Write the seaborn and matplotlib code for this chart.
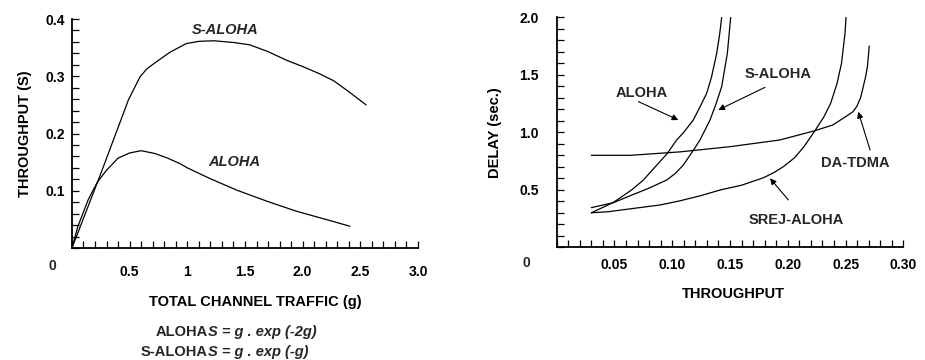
import numpy as np
import pandas as pd
import seaborn as sns
import matplotlib.pyplot as plt
from matplotlib.ticker import MultipleLocator

# --- left panel: throughput vs offered traffic
s_aloha_g = [0, 0.25, 0.49, 0.59, 0.65, 0.73, 0.85, 0.99, 1.10, 1.23, 1.40, 1.54,
             1.70, 1.86, 2.00, 2.15, 2.27, 2.40, 2.55]
s_aloha_s = [0, 0.13, 0.259, 0.299, 0.313, 0.325, 0.342, 0.357, 0.361, 0.362, 0.359, 0.355,
             0.343, 0.328, 0.317, 0.304, 0.292, 0.273, 0.25]
aloha_g = [0, 0.05, 0.14, 0.22, 0.30, 0.40, 0.50, 0.60, 0.72, 0.83, 0.94, 1.00,
           1.20, 1.43, 1.70, 1.95, 2.20, 2.41]
aloha_s = [0, 0.037, 0.084, 0.115, 0.136, 0.157, 0.166, 0.170, 0.165, 0.157, 0.147, 0.140,
           0.121, 0.101, 0.081, 0.064, 0.050, 0.038]

# --- right panel: delay vs throughput
aloha_x = [0.030, 0.049, 0.065, 0.075, 0.0958, 0.1038, 0.1100, 0.1182, 0.1240,
           0.1298, 0.1340, 0.1385, 0.1410, 0.1428]
aloha_y = [0.30, 0.39, 0.50, 0.585, 0.817, 0.933, 1.00, 1.107, 1.22,
           1.339, 1.48, 1.687, 1.85, 2.00]
s_aloha_x = [0.030, 0.049, 0.064, 0.080, 0.0952, 0.103, 0.1096, 0.118, 0.124,
             0.1327, 0.138, 0.1428, 0.1477, 0.1506]
s_aloha_y = [0.345, 0.388, 0.45, 0.515, 0.585, 0.645, 0.716, 0.84, 0.933,
             1.107, 1.25, 1.397, 1.687, 2.00]
srej_x = [0.030, 0.045, 0.064, 0.0895, 0.107, 0.125, 0.1413, 0.160, 0.179, 0.188, 0.196,
          0.206, 0.214, 0.2235, 0.231, 0.237, 0.2425, 0.2465, 0.2495, 0.2504]
srej_y = [0.30, 0.31, 0.335, 0.368, 0.405, 0.45, 0.498, 0.54, 0.605, 0.65, 0.70,
          0.78, 0.875, 1.014, 1.13, 1.25, 1.42, 1.60, 1.86, 2.00]
datdma_x = [0.030, 0.064, 0.107, 0.150, 0.193, 0.2235, 0.239, 0.251, 0.2565,
            0.2596, 0.2630, 0.2653, 0.2675, 0.2690, 0.2705]
datdma_y = [0.80, 0.80, 0.83, 0.875, 0.933, 1.014, 1.064, 1.142, 1.18,
            1.223, 1.30, 1.397, 1.49, 1.58, 1.75]

left_xticks = [0.5, 1, 1.5, 2.0, 2.5, 3.0]
left_xlabels = ['0.5', '1', '1.5', '2.0', '2.5', '3.0']
left_yticks = [0.1, 0.2, 0.3, 0.4]
right_xticks = [0.05, 0.10, 0.15, 0.20, 0.25, 0.30]
right_yticks = [0.5, 1.0, 1.5, 2.0]

sns.set_theme(style='ticks', rc={
    'xtick.direction': 'in', 'ytick.direction': 'in',
    'xtick.major.size': 5, 'xtick.minor.size': 5,
    'ytick.major.size': 5, 'ytick.minor.size': 5,
    'xtick.major.width': 0.9, 'xtick.minor.width': 0.9,
    'ytick.major.width': 0.9, 'ytick.minor.width': 0.9,
    'xtick.color': 'black', 'ytick.color': 'black',
    'xtick.bottom': True, 'ytick.left': True,
    'axes.edgecolor': 'black',
})
plt.rcParams['font.family'] = ['Liberation Sans', 'DejaVu Sans']
plt.rcParams['font.weight'] = 'bold'

fig = plt.figure(figsize=(9.25, 3.6), dpi=100)
ax1 = fig.add_axes([0.0778, 0.3111, 0.3741, 0.6361])
ax2 = fig.add_axes([0.6018, 0.313, 0.3748, 0.639])

FS = 10       # tick labels
FS_LBL = 10.5  # axis titles, curve names, formulas
line_kw = dict(color='black', linewidth=0.9, estimator=None, sort=False, legend=False)

# left panel curves
df_left = pd.concat([
    pd.DataFrame({'g': s_aloha_g, 'S': s_aloha_s, 'proto': 'S-ALOHA'}),
    pd.DataFrame({'g': aloha_g, 'S': aloha_s, 'proto': 'ALOHA'}),
])
for name, grp in df_left.groupby('proto'):
    sns.lineplot(data=grp, x='g', y='S', ax=ax1, **line_kw)

# right panel curves
df_right = pd.concat([
    pd.DataFrame({'thr': aloha_x, 'delay': aloha_y, 'proto': 'ALOHA'}),
    pd.DataFrame({'thr': s_aloha_x, 'delay': s_aloha_y, 'proto': 'S-ALOHA'}),
    pd.DataFrame({'thr': srej_x, 'delay': srej_y, 'proto': 'SREJ-ALOHA'}),
    pd.DataFrame({'thr': datdma_x, 'delay': datdma_y, 'proto': 'DA-TDMA'}),
])
for name, grp in df_right.groupby('proto'):
    sns.lineplot(data=grp, x='thr', y='delay', ax=ax2, **line_kw)

ax1.set_xlim(0, 3.0)
ax1.set_ylim(0, 0.4)
ax1.set_xticks(left_xticks)
ax1.set_xticklabels(left_xlabels)
ax1.set_yticks(left_yticks)

ax2.set_xlim(0, 0.30)
ax2.set_ylim(0, 2.0)
ax2.set_xticks(right_xticks)
ax2.set_xticklabels(['%.2f' % v for v in right_xticks])
ax2.set_yticks(right_yticks)
ax2.set_yticklabels(['%.1f' % v for v in right_yticks])

# axes cosmetics: only left/bottom spines, inward ticks on both
for ax in (ax1, ax2):
    ax.spines['top'].set_visible(False)
    ax.spines['right'].set_visible(False)
    for s in ('left', 'bottom'):
        ax.spines[s].set_linewidth(1.3)
        ax.spines[s].set_color('black')
    ax.tick_params(which='both', direction='in', length=5, width=0.9, color='black',
                   bottom=True, left=True, top=False, right=False,
                   labelsize=FS, labelcolor='black')
    ax.set_facecolor('white')
    ax.minorticks_on()

ax1.xaxis.set_minor_locator(MultipleLocator(0.1))
ax1.yaxis.set_minor_locator(MultipleLocator(0.02))
ax2.xaxis.set_minor_locator(MultipleLocator(0.01))
ax2.yaxis.set_minor_locator(MultipleLocator(0.1))
ax1.tick_params(axis='x', which='both', pad=12)
ax1.tick_params(axis='y', which='both', pad=5)
ax2.tick_params(axis='x', which='both', pad=8)
ax2.tick_params(axis='y', which='both', pad=13)

# origin "0" labels sit off to the lower left
ax1.annotate('0', xy=(0, 0), xytext=(-14, -13), textcoords='offset points',
             ha='center', va='center', fontsize=FS, fontweight='bold')
ax2.annotate('0', xy=(0, 0), xytext=(-21.5, -11.5), textcoords='offset points',
             ha='center', va='center', fontsize=FS, fontweight='bold')

# axis labels
ax1.set_xlabel('TOTAL CHANNEL TRAFFIC (g)', fontsize=FS_LBL, fontweight='bold', color='black')
ax1.set_ylabel('THROUGHPUT (S)', fontsize=FS_LBL, fontweight='bold', color='black')
ax1.xaxis.set_label_coords(0.529, -0.205)
ax1.yaxis.set_label_coords(-0.116, 0.5)
ax2.set_xlabel('THROUGHPUT', fontsize=FS_LBL, fontweight='bold', color='black')
ax2.set_ylabel('DELAY (sec.)', fontsize=FS_LBL, fontweight='bold', color='black')
ax2.xaxis.set_label_coords(0.511, -0.173)
ax2.yaxis.set_label_coords(-0.158, 0.5)

# curve labels, left panel
ax1.text(1.33, 0.381, 'S-ALOHA', ha='center', va='center', fontsize=FS_LBL,
         fontweight='bold', fontstyle='italic')
ax1.text(1.41, 0.151, 'ALOHA', ha='center', va='center', fontsize=FS_LBL,
         fontweight='bold', fontstyle='italic')

# formulas under the left panel: protocol name upright, the rest italic
for y, name, rhs in [(332, 'ALOHA', 'S = g . exp (-2g)'),
                     (352, 'S-ALOHA', 'S = g . exp (-g)')]:
    fy = 1 - y / 360
    fig.text(208 / 925, fy, name, ha='right', va='center', fontsize=FS_LBL, fontweight='bold')
    fig.text(208 / 925, fy, rhs, ha='left', va='center', fontsize=FS_LBL,
             fontweight='bold', fontstyle='italic')

# arrows + labels, right panel
arrow_kw = dict(arrowstyle='-|>', color='black', lw=0.8, mutation_scale=9,
                shrinkA=0, shrinkB=0)
ax2.text(0.0735, 1.34, 'ALOHA', ha='center', va='center', fontsize=FS_LBL, fontweight='bold')
ax2.annotate('', xy=(0.1053, 1.107), xytext=(0.0707, 1.267), arrowprops=arrow_kw)
ax2.text(0.1918, 1.507, 'S-ALOHA', ha='center', va='center', fontsize=FS_LBL, fontweight='bold')
ax2.annotate('', xy=(0.1399, 1.194), xytext=(0.1803, 1.391), arrowprops=arrow_kw)
ax2.text(0.2582, 0.730, 'DA-TDMA', ha='center', va='center', fontsize=FS_LBL, fontweight='bold')
ax2.annotate('', xy=(0.261, 1.179), xytext=(0.2712, 0.846), arrowprops=arrow_kw)
ax2.text(0.2077, 0.238, 'SREJ-ALOHA', ha='center', va='center', fontsize=FS_LBL, fontweight='bold')
ax2.annotate('', xy=(0.1846, 0.60), xytext=(0.2005, 0.412), arrowprops=arrow_kw)

fig.savefig('out.png', dpi=100, facecolor='white')
